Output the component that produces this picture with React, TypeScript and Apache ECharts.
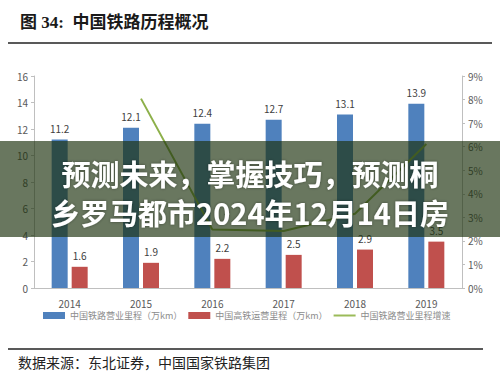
import React, { useEffect, useRef } from "react";
import * as echarts from "echarts";

const years = ["2014", "2015", "2016", "2017", "2018", "2019"];
const railMileage = [11.2, 12.1, 12.4, 12.7, 13.1, 13.9];
const hsrMileage = [1.6, 1.9, 2.2, 2.5, 2.9, 3.5];
const growthRate = [null, 8.04, 2.48, 2.42, 3.15, 6.11];
const seriesNames = ["中国铁路营业里程（万km）", "中国高铁运营里程（万km）", "中国铁路营业里程增速"];
const titleText = "图 34:  中国铁路历程概况";
const sourceText = "数据来源：东北证券，中国国家铁路集团";
const overlayLines = ["预测未来，掌握技巧，预测桐", "乡罗马都市2024年12月14日房"];

export default function App() {
  const ref = useRef<HTMLDivElement>(null);
  useEffect(() => {
    document.body.style.margin = "0";
    const chart = echarts.init(ref.current!, null, { renderer: "svg" });
    const axisColor = "#bfbfbf";
    const labelColor = "#595959";
    const font = "'Noto Sans CJK SC', 'Noto Sans', sans-serif";
    chart.setOption({
      animation: false,
      backgroundColor: "#ffffff",
      textStyle: { fontFamily: font },
      grid: { left: 34, right: 38, top: 76, bottom: 93 },
      legend: {
        bottom: 56,
        left: 38,
        itemWidth: 22,
        itemHeight: 7,
        itemGap: 6,
        textStyle: { color: "#8c8c8c", fontSize: 9, fontFamily: font },
        data: [
          { name: seriesNames[0], icon: "rect" },
          { name: seriesNames[1], icon: "rect" },
          { name: seriesNames[2], icon: "path://M0,0H22V2H0Z", itemStyle: { color: "#9bbb59" } },
        ],
      },
      xAxis: {
        type: "category",
        data: years,
        axisLine: { lineStyle: { color: axisColor } },
        axisTick: { show: false },
        axisLabel: { color: labelColor, fontSize: 10, margin: 10 },
      },
      yAxis: [
        {
          type: "value",
          min: 0,
          max: 16,
          interval: 2,
          splitLine: { show: false },
          axisLine: { show: true, lineStyle: { color: axisColor } },
          axisTick: { show: true, length: 3, lineStyle: { color: axisColor } },
          axisLabel: { color: labelColor, fontSize: 10, margin: 6 },
        },
        {
          type: "value",
          min: 0,
          max: 9,
          interval: 1,
          splitLine: { show: false },
          axisLine: { show: true, lineStyle: { color: axisColor } },
          axisTick: { show: true, length: 3, lineStyle: { color: axisColor } },
          axisLabel: { color: labelColor, fontSize: 10, margin: 6, formatter: "{value}%" },
        },
      ],
      series: [
        {
          name: seriesNames[0],
          type: "bar",
          data: railMileage,
          barWidth: 16,
          barGap: "25%",
          itemStyle: { color: "#4f81bd" },
          label: { show: true, position: "top", color: "#404040", fontSize: 10, distance: 6 },
        },
        {
          name: seriesNames[1],
          type: "bar",
          data: hsrMileage,
          barWidth: 16,
          itemStyle: { color: "#c0504d" },
          label: { show: true, position: "top", color: "#404040", fontSize: 10, distance: 6 },
        },
        {
          name: seriesNames[2],
          type: "line",
          yAxisIndex: 1,
          data: growthRate,
          showSymbol: false,
          symbol: "none",
          lineStyle: { color: "#8db04a", width: 2 },
          itemStyle: { color: "#9bbb59" },
          label: {
            show: true,
            position: "top",
            color: "#404040",
            fontSize: 10,
            distance: 9,
            formatter: (p: any) => p.value + "%",
          },
        },
      ],
      graphic: [
        {
          type: "text",
          left: 20,
          top: 14,
          style: {
            text: titleText,
            fontSize: 17,
            fontFamily: "'Liberation Serif', 'Noto Sans CJK SC', serif",
            fontWeight: "bold",
            fill: "#1a1a1a",
          },
        },
        {
          type: "line",
          shape: { x1: 8, y1: 43, x2: 492, y2: 43 },
          style: { stroke: "#222222", lineWidth: 1.5 },
        },
        {
          type: "line",
          shape: { x1: 8, y1: 349, x2: 483, y2: 349 },
          style: { stroke: "#222222", lineWidth: 1.5 },
        },
        {
          type: "text",
          left: 18,
          top: 355,
          style: { text: sourceText, fontSize: 14, fontFamily: font, fill: "#222222" },
        },
        {
          type: "rect",
          z: 100,
          shape: { x: 0, y: 141, width: 500, height: 96 },
          style: { fill: "rgba(28,48,12,0.66)" },
        },
        {
          type: "text",
          z: 101,
          x: 250,
          y: 173,
          style: {
            text: overlayLines[0],
            fontSize: 29,
            fontWeight: "bold",
            fontFamily: font,
            fill: "#ffffff",
            align: "center",
            verticalAlign: "middle",
            textShadowColor: "rgba(0,0,0,0.4)",
            textShadowBlur: 3,
          },
        },
        {
          type: "text",
          z: 101,
          x: 250,
          y: 212,
          style: {
            text: overlayLines[1],
            fontSize: 29,
            fontWeight: "bold",
            fontFamily: font,
            fill: "#ffffff",
            align: "center",
            verticalAlign: "middle",
            textShadowColor: "rgba(0,0,0,0.4)",
            textShadowBlur: 3,
          },
        },
      ],
    });
    return () => chart.dispose();
  }, []);
  return <div ref={ref} style={{ width: 500, height: 381 }} />;
}
